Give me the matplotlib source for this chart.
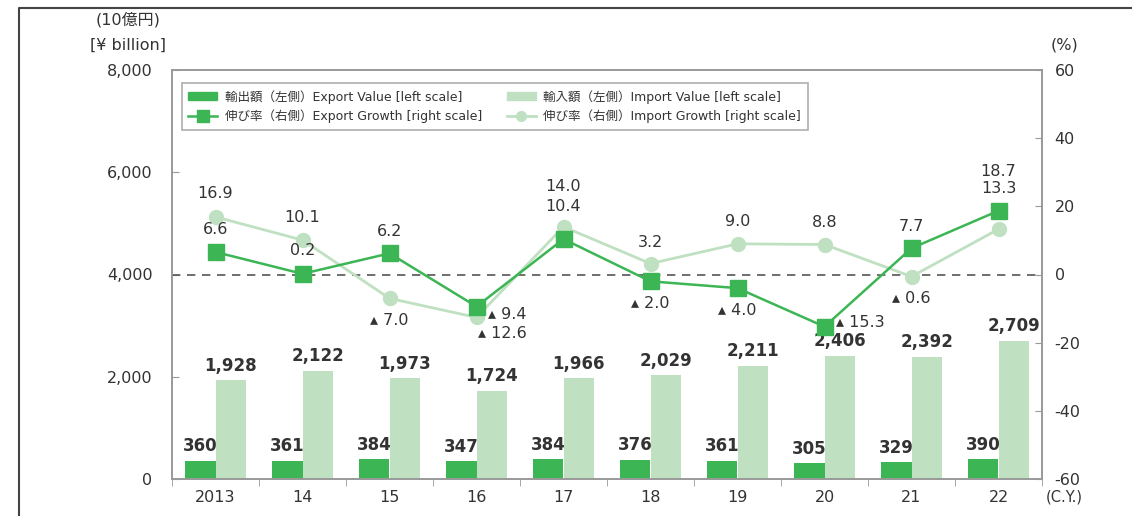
import numpy as np
import matplotlib
matplotlib.use('Agg')
import matplotlib.pyplot as plt
from matplotlib.lines import Line2D

plt.rcParams['font.family'] = ['DejaVu Sans', 'Noto Sans CJK JP']
plt.rcParams['axes.unicode_minus'] = False

# データ
anos = ['2013', '14', '15', '16', '17', '18', '19', '20', '21', '22']
exportacao = [360, 361, 384, 347, 384, 376, 361, 305, 329, 390]
importacao = [1928, 2122, 1973, 1724, 1966, 2029, 2211, 2406, 2392, 2709]
cresc_export = [6.6, 0.2, 6.2, -9.4, 10.4, -2.0, -4.0, -15.3, 7.7, 18.7]
cresc_import = [16.9, 10.1, -7.0, -12.6, 14.0, 3.2, 9.0, 8.8, -0.6, 13.3]

# posições dos rótulos de crescimento (pixels relativos ao marcador)
desloc_export = [(0, 23, 'center'), (0, 23, 'center'), (0, 22, 'center'), (12, -8, 'left'),
                 (0, 33, 'center'), (0, -22, 'center'), (0, -22, 'center'), (12, 4, 'left'),
                 (0, 22, 'center'), (0, 39, 'center')]
desloc_import = [(0, 23, 'center'), (0, 23, 'center'), (0, -22, 'center'), (2, -16, 'left'),
                 (0, 40, 'center'), (0, 21, 'center'), (0, 22, 'center'), (0, 22, 'center'),
                 (0, -22, 'center'), (0, 41, 'center')]

VERDE = '#3cb554'
VERDE_CLARO = '#bfe0c1'
TEXTO = '#333333'
CINZA = '#999999'


def rotulo(v):
    return f'▴ {abs(v):.1f}' if v < 0 else f'{v:.1f}'


fig = plt.figure(figsize=(11.32, 5.16), dpi=100)
ax = fig.add_axes([172 / 1132, 1 - 479 / 516, 870 / 1132, 409 / 516])
ax2 = ax.twinx()

x = np.arange(len(anos))
larg = 0.35
ax.bar(x - larg / 2, exportacao, larg, color=VERDE, zorder=2)
ax.bar(x + larg / 2, importacao, larg, color=VERDE_CLARO, zorder=2)

for xi, v in zip(x, exportacao):
    ax.annotate(f'{v:,}', (xi - larg / 2, v), xytext=(0, 4), textcoords='offset points',
                ha='center', va='bottom', fontsize=12, fontweight='bold', color=TEXTO)
for xi, v in zip(x, importacao):
    ax.annotate(f'{v:,}', (xi + larg / 2, v), xytext=(0, 4), textcoords='offset points',
                ha='center', va='bottom', fontsize=12, fontweight='bold', color=TEXTO)

ax.set_ylim(0, 8000)
ax.set_xlim(-0.5, len(anos) - 0.5)
ax.set_yticks(range(0, 8001, 2000))
ax.set_yticklabels([f'{v:,}' for v in range(0, 8001, 2000)])
ax.set_xticks(x)
ax.set_xticklabels(anos)
ax.set_xticks(np.arange(-0.5, len(anos)), minor=True)
ax.tick_params(axis='x', which='major', length=0, pad=8, labelsize=11.5, labelcolor=TEXTO)
ax.tick_params(axis='x', which='minor', length=5, direction='out', color=CINZA)
ax.tick_params(axis='y', direction='in', length=5, color=CINZA, labelsize=11.5,
               labelcolor=TEXTO, pad=14)

# linhas de crescimento
ax2.axhline(0, color='#555555', lw=1.2, ls=(0, (5, 4)), zorder=1)
ax2.plot(x, cresc_import, color=VERDE_CLARO, lw=2, marker='o', ms=10, zorder=3)
ax2.plot(x, cresc_export, color=VERDE, lw=1.8, marker='s', ms=11, zorder=4)
ax2.set_ylim(-60, 60)
ax2.set_yticks(range(-60, 61, 20))
ax2.tick_params(axis='y', direction='in', length=5, color=CINZA, labelsize=11.5,
                labelcolor=TEXTO, pad=9)

for xi, v, (dx, dy, ha) in zip(x, cresc_export, desloc_export):
    ax2.annotate(rotulo(v), (xi, v), xytext=(dx, dy), textcoords='offset pixels',
                 ha=ha, va='center', fontsize=11.5, color=TEXTO, zorder=5)
for xi, v, (dx, dy, ha) in zip(x, cresc_import, desloc_import):
    ax2.annotate(rotulo(v), (xi, v), xytext=(dx, dy), textcoords='offset pixels',
                 ha=ha, va='center', fontsize=11.5, color=TEXTO, zorder=5)

for a in (ax, ax2):
    for s in a.spines.values():
        s.set_color(CINZA)
        s.set_linewidth(1.2)

# legenda
handles = [
    plt.Rectangle((0, 0), 1, 1, color=VERDE),
    Line2D([], [], color=VERDE, lw=1.8, marker='s', ms=8),
    plt.Rectangle((0, 0), 1, 1, color=VERDE_CLARO),
    Line2D([], [], color=VERDE_CLARO, lw=2, marker='o', ms=7),
]
labels = [
    '輸出額（左側）Export Value [left scale]',
    '伸び率（右側）Export Growth [right scale]',
    '輸入額（左側）Import Value [left scale]',
    '伸び率（右側）Import Growth [right scale]',
]
leg = ax2.legend(handles, labels, ncol=2, loc='upper left', bbox_to_anchor=(0.011, 0.968),
                 borderaxespad=0, fontsize=9, frameon=True, fancybox=False, edgecolor=CINZA,
                 handlelength=2.3, handleheight=0.6, handletextpad=0.6, columnspacing=2.0,
                 labelspacing=0.45, borderpad=0.55, labelcolor=TEXTO)
leg.get_frame().set_linewidth(1.2)

# textos dos eixos
fig.text(128 / 1132, 1 - 20 / 516, '(10億円)', ha='center', va='center', fontsize=11.5, color=TEXTO)
fig.text(128 / 1132, 1 - 45 / 516, '[¥ billion]', ha='center', va='center', fontsize=11.5, color=TEXTO)
fig.text(1064 / 1132, 1 - 45 / 516, '(%)', ha='center', va='center', fontsize=11.5, color=TEXTO)
fig.text(1046 / 1132, 1 - 497 / 516, '(C.Y.)', ha='left', va='center', fontsize=10.5, color=TEXTO)

# moldura superior e esquerda
fig.add_artist(Line2D([19 / 1132, 19 / 1132, 1], [0, 1 - 8 / 516, 1 - 8 / 516],
                      transform=fig.transFigure, color='#444444', lw=1.5))

fig.savefig('out.png', dpi=100)
